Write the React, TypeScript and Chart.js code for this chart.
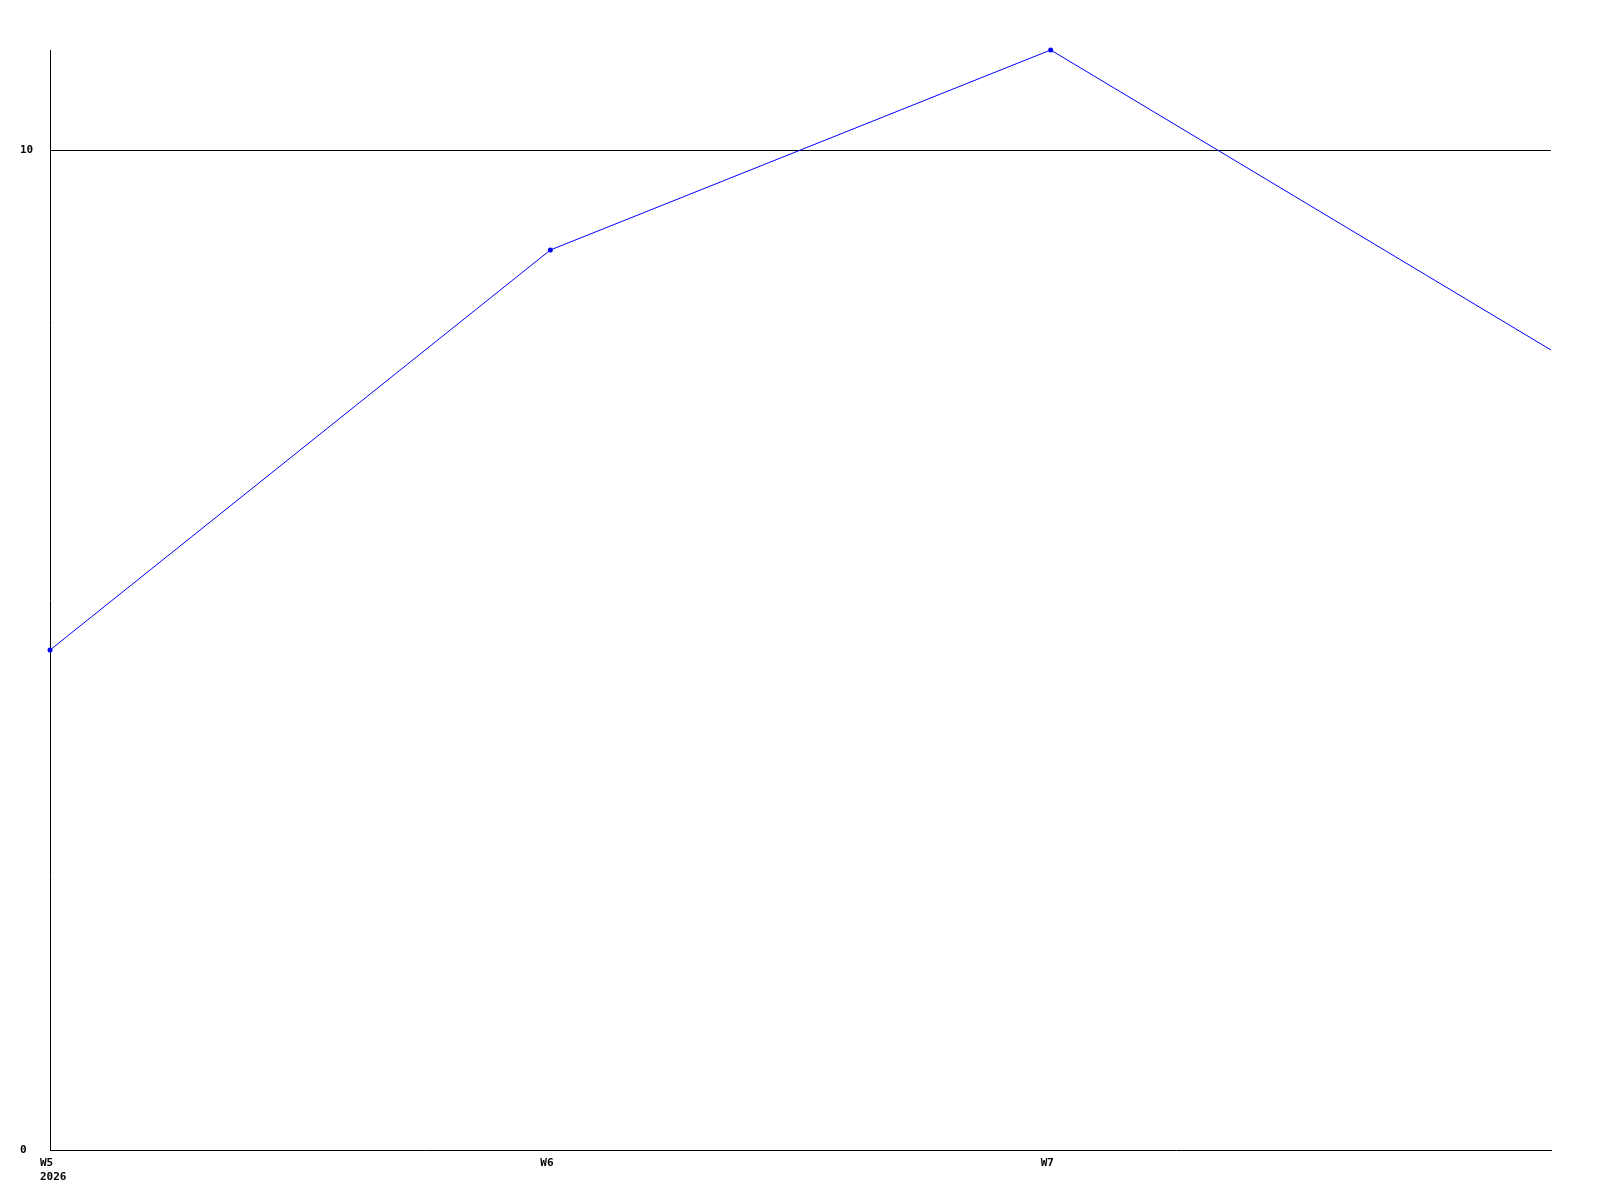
import React, { useEffect, useRef } from "react";
import { Chart, registerables } from "chart.js";

Chart.register(...registerables);

const categories = ["W5", "W6", "W7", "W8"];
const xTickLabels: (string | string[])[] = [["W5", "2026"], "W6", "W7", ""];
const seriesValues = [5, 9, 11, 8];
const pointRadii = [2.5, 2.5, 2.5, 0];
const yTickValues = [0, 10];

export default function App() {
  const ref = useRef<HTMLCanvasElement | null>(null);

  useEffect(() => {
    if (!ref.current) return;
    const font = { family: "'DejaVu Sans Mono', monospace", size: 11, weight: "bold" as const, lineHeight: 1.3 };
    const chart = new Chart(ref.current, {
      type: "line",
      data: {
        labels: categories,
        datasets: [
          {
            data: seriesValues,
            borderColor: "#0000ff",
            backgroundColor: "#0000ff",
            borderWidth: 1,
            pointRadius: pointRadii,
            pointBorderWidth: 0,
            pointHoverRadius: 2,
            tension: 0,
            fill: false,
            clip: false as any,
          },
        ],
      },
      options: {
        responsive: false,
        animation: false,
        events: [],
        layout: { padding: { left: 20, right: 49, top: 50, bottom: 0 } },
        plugins: { legend: { display: false }, tooltip: { enabled: false } },
        scales: {
          x: {
            type: "category",
            offset: false,
            grid: { display: false, drawTicks: false },
            border: { display: true, color: "#000000", width: 1 },
            ticks: {
              color: "#000000",
              font,
              padding: 6,
              maxRotation: 0,
              autoSkip: false,
              align: "start",
              labelOffset: -10,
              callback: (_v: any, i: number) => xTickLabels[i],
            },
            afterFit: (s: any) => {
              s.height = 50;
            },
          },
          y: {
            type: "linear",
            min: 0,
            max: 11,
            grid: {
              color: (ctx: any) => (ctx.tick && ctx.tick.value === 0 ? "rgba(0,0,0,0)" : "#000000"),
              drawTicks: false,
              lineWidth: 1,
            },
            border: { display: true, color: "#000000", width: 1 },
            afterBuildTicks: (s: any) => {
              s.ticks = yTickValues.map((v) => ({ value: v }));
            },
            ticks: {
              color: "#000000",
              font,
              crossAlign: "far",
              padding: 4,
              callback: (v: any) => String(v),
            },
            afterFit: (s: any) => {
              s.width = 30;
            },
          },
        },
      },
    });
    return () => chart.destroy();
  }, []);

  return (
    <div style={{ position: "absolute", left: 0, top: 0, width: 1600, height: 1200, background: "#ffffff" }}>
      <canvas ref={ref} width={1600} height={1200} style={{ display: "block" }} />
    </div>
  );
}
